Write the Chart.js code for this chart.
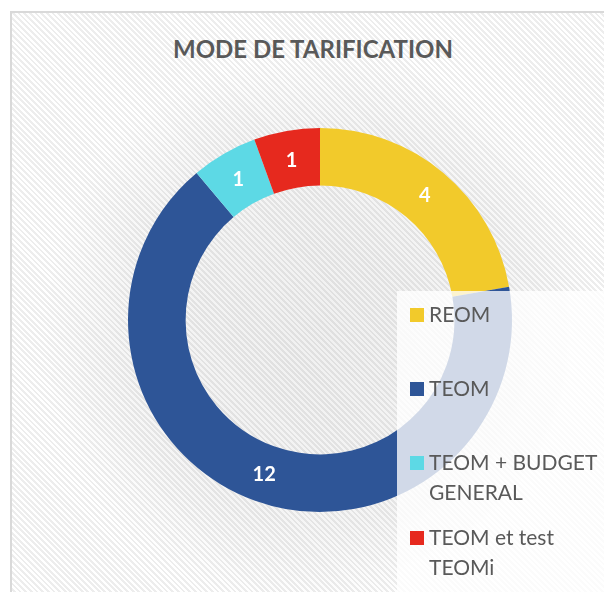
<!DOCTYPE html>
<html>
<head>
<meta charset="utf-8">
<script src="https://cdn.jsdelivr.net/npm/chart.js@4"></script>
<style>
    html, body { margin: 0; padding: 0; background: #fff; }
    #wrap {
        position: relative;
        width: 604px;
        height: 592px;
        overflow: hidden;
        font-family: Lato, "Open Sans", sans-serif;
    }
    #frame {
        position: absolute;
        left: 10px;
        top: 11px;
        width: 620px;
        height: 620px;
        border: 2px solid #d9d9d9;
        background:
            radial-gradient(circle at 310px 318px, rgba(0,0,0,0.06) 0, rgba(0,0,0,0.04) 190px, rgba(0,0,0,0) 280px),
            repeating-linear-gradient(45deg, #ffffff 0, #ffffff 2px, #ededed 2px, #ededed 4px);
    }
    #titre {
        position: absolute;
        left: 0;
        width: 626px;
        top: 34px;
        text-align: center;
        font-weight: bold;
        font-size: 24px;
        color: #595959;
    }
    canvas { position: absolute; left: 0; top: 0; }
    #legende {
        position: absolute;
        left: 397px;
        top: 291px;
        width: 220px;
        height: 310px;
        background: rgba(255,255,255,0.78);
    }
    .item {
        position: absolute;
        left: 13px;
        font-size: 21px;
        line-height: 30px;
        color: #595959;
    }
    .item span.carre {
        position: absolute;
        left: 0;
        top: 9px;
        width: 14px;
        height: 14px;
    }
    .item div { padding-left: 19px; }
</style>
</head>
<body>
<div id="wrap">
    <div id="frame"></div>
    <div id="titre">MODE DE TARIFICATION</div>
    <canvas id="donut" width="604" height="592"></canvas>
    <div id="legende"></div>
</div>
<script>
// données du graphique
const categories = [['REOM'], ['TEOM'], ['TEOM + BUDGET', 'GENERAL'], ['TEOM et test', 'TEOMi']];
const valeurs = [4, 12, 1, 1];
const couleurs = ['#F2CA2B', '#2E5597', '#5DD9E5', '#E6291E'];

// etiquettes blanches au milieu de chaque part
const etiquettes = {
    id: 'etiquettes',
    afterDatasetsDraw(chart) {
        const ctx = chart.ctx;
        const meta = chart.getDatasetMeta(0);
        ctx.save();
        ctx.fillStyle = '#ffffff';
        ctx.font = 'bold 20px Lato, "Open Sans", sans-serif';
        ctx.textAlign = 'center';
        ctx.textBaseline = 'middle';
        meta.data.forEach((arc, i) => {
            const pos = arc.tooltipPosition();
            ctx.fillText(String(chart.data.datasets[0].data[i]), pos.x, pos.y + 1);
        });
        ctx.restore();
    }
};

const ctx = document.getElementById('donut').getContext('2d');
new Chart(ctx, {
    type: 'doughnut',
    data: {
        labels: categories.map(c => c.join(' ')),
        datasets: [{
            data: valeurs,
            backgroundColor: couleurs,
            borderWidth: 0,
            cutout: '70%'
        }]
    },
    options: {
        responsive: false,
        animation: false,
        layout: {
            padding: { left: 128, right: 92, top: 128, bottom: 80 }
        },
        plugins: {
            legend: { display: false },
            tooltip: { enabled: false }
        }
    },
    plugins: [etiquettes]
});

// legende html (libellés sur deux lignes)
const legende = document.getElementById('legende');
const hauts = [8, 82, 156, 231];
categories.forEach((lignes, i) => {
    const item = document.createElement('div');
    item.className = 'item';
    item.style.top = hauts[i] + 'px';
    const carre = document.createElement('span');
    carre.className = 'carre';
    carre.style.background = couleurs[i];
    item.appendChild(carre);
    const texte = document.createElement('div');
    texte.innerHTML = lignes.join('<br>');
    item.appendChild(texte);
    legende.appendChild(item);
});
</script>
</body>
</html>
